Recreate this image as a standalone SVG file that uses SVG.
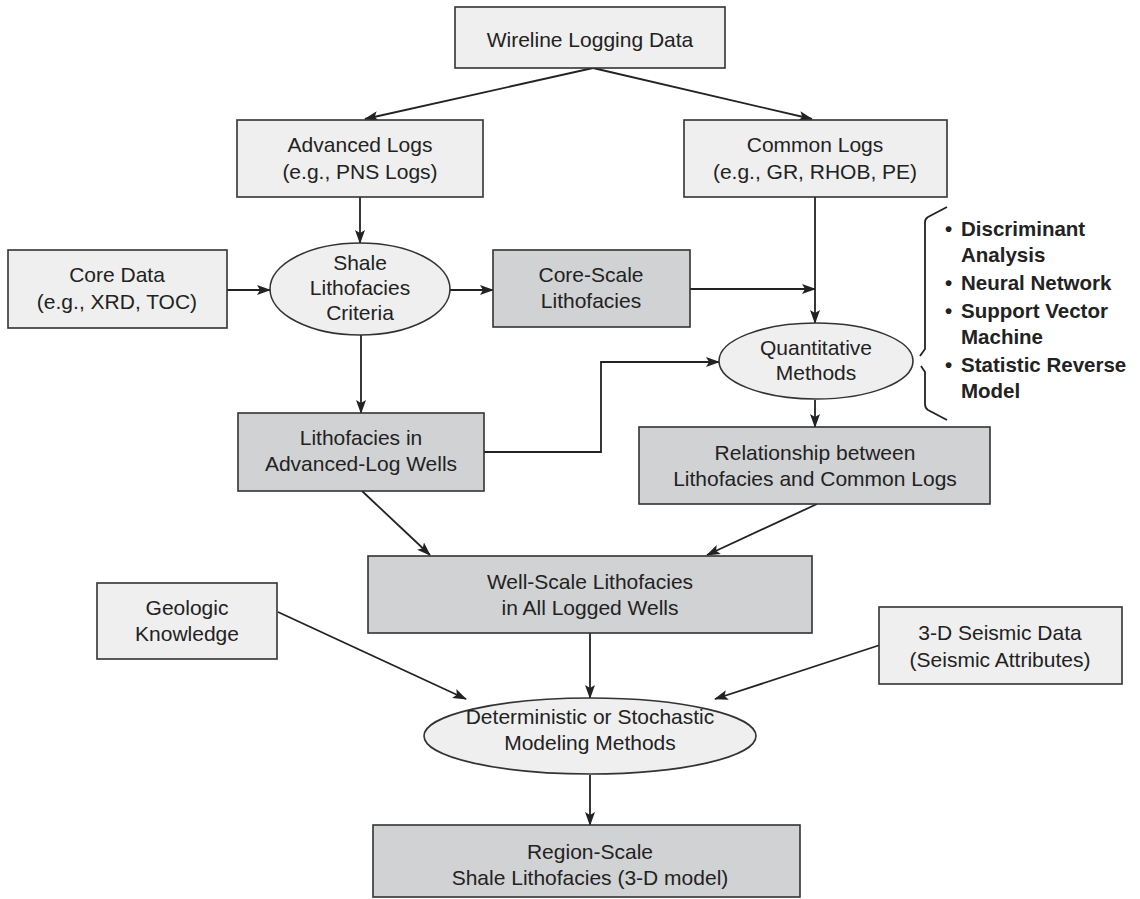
<svg xmlns="http://www.w3.org/2000/svg" width="1140" height="899" viewBox="0 0 1140 899">
<defs>
<marker id="ah" viewBox="0 0 14 10" refX="13" refY="5" markerWidth="14" markerHeight="10" markerUnits="userSpaceOnUse" orient="auto">
<path d="M0,0 L14,5 L0,10 L3,5 z" fill="#222"/>
</marker>
<style>
.lt{fill:#efefef;stroke:#333;stroke-width:1.6}
.dk{fill:#d1d2d4;stroke:#333;stroke-width:1.6}
.t{font-family:"Liberation Sans",Arial,sans-serif;font-size:21px;fill:#222;text-anchor:middle}
.b{font-family:"Liberation Sans",Arial,sans-serif;font-size:20.5px;font-weight:bold;fill:#222}
.c{fill:none;stroke:#222;stroke-width:1.8}
.ca{fill:none;stroke:#222;stroke-width:1.8;marker-end:url(#ah)}
</style>
</defs>
<rect width="1140" height="899" fill="#fff"/>
<g id="connectors">
<path class="ca" d="M593,68 L365,119"/>
<path class="ca" d="M593,68 L812,119"/>
<path class="ca" d="M360,197 L360,243"/>
<path class="ca" d="M227,290 L270,290"/>
<path class="ca" d="M450,290 L493,290"/>
<path class="ca" d="M815,197 L815,323"/>
<path class="ca" d="M690,289 L815,289"/>
<path class="ca" d="M361,335 L361,413"/>
<path class="ca" d="M484,452 L601,452 L601,362 L719,362"/>
<path class="ca" d="M815,400 L815,427"/>
<path class="ca" d="M362,491 L430,555"/>
<path class="ca" d="M817,504 L707,555"/>
<path class="ca" d="M590,633 L590,698"/>
<path class="ca" d="M278,612 L466,699"/>
<path class="ca" d="M880,645 L715,699"/>
<path class="ca" d="M590,775 L590,825"/>
</g>
<g id="n-wireline"><rect class="lt" x="455" y="7" width="270" height="61"/><text class="t" x="590" y="47">Wireline Logging Data</text></g>
<g id="n-advanced"><rect class="lt" x="237" y="120" width="246" height="77"/><text class="t" x="360" y="152">Advanced Logs</text><text class="t" x="360" y="179">(e.g., PNS Logs)</text></g>
<g id="n-common"><rect class="lt" x="684" y="120" width="263" height="77"/><text class="t" x="815" y="152">Common Logs</text><text class="t" x="815" y="179">(e.g., GR, RHOB, PE)</text></g>
<g id="n-core"><rect class="lt" x="8" y="250" width="219" height="78"/><text class="t" x="117" y="282">Core Data</text><text class="t" x="117" y="309">(e.g., XRD, TOC)</text></g>
<g id="n-shale"><ellipse class="lt" cx="360" cy="289" rx="90" ry="46"/><text class="t" x="360" y="270">Shale</text><text class="t" x="360" y="295">Lithofacies</text><text class="t" x="360" y="320">Criteria</text></g>
<g id="n-corescale"><rect class="dk" x="493" y="250" width="197" height="77"/><text class="t" x="591" y="282">Core-Scale</text><text class="t" x="591" y="308">Lithofacies</text></g>
<g id="n-quant"><ellipse class="lt" cx="816" cy="361" rx="97" ry="38"/><text class="t" x="816" y="355">Quantitative</text><text class="t" x="816" y="380">Methods</text></g>
<g id="n-methods">
<path class="c" d="M947,207 L928,217 Q925,219 925,222 L925,349 L920,356"/>
<path class="c" d="M921,366 L925,372 L925,404 Q925,408 928,410 L947,420"/>
<text class="b"><tspan x="945" y="236">•</tspan><tspan x="961" y="236">Discriminant</tspan></text>
<text class="b" x="961" y="262">Analysis</text>
<text class="b"><tspan x="945" y="290">•</tspan><tspan x="961" y="290">Neural Network</tspan></text>
<text class="b"><tspan x="945" y="318">•</tspan><tspan x="961" y="318">Support Vector</tspan></text>
<text class="b" x="961" y="344">Machine</text>
<text class="b"><tspan x="945" y="372">•</tspan><tspan x="961" y="372">Statistic Reverse</tspan></text>
<text class="b" x="961" y="398">Model</text>
</g>
<g id="n-litho-adv"><rect class="dk" x="238" y="413" width="246" height="78"/><text class="t" x="361" y="445">Lithofacies in</text><text class="t" x="361" y="471">Advanced-Log Wells</text></g>
<g id="n-relationship"><rect class="dk" x="639" y="427" width="351" height="77"/><text class="t" x="815" y="460">Relationship between</text><text class="t" x="815" y="486">Lithofacies and Common Logs</text></g>
<g id="n-wellscale"><rect class="dk" x="368" y="556" width="444" height="77"/><text class="t" x="590" y="589">Well-Scale Lithofacies</text><text class="t" x="590" y="615">in All Logged Wells</text></g>
<g id="n-geologic"><rect class="lt" x="97" y="583" width="180" height="76"/><text class="t" x="187" y="615">Geologic</text><text class="t" x="187" y="641">Knowledge</text></g>
<g id="n-seismic"><rect class="lt" x="879" y="607" width="243" height="77"/><text class="t" x="1000" y="640">3-D Seismic Data</text><text class="t" x="1000" y="667">(Seismic Attributes)</text></g>
<g id="n-modeling"><ellipse class="lt" cx="590" cy="736" rx="166" ry="38"/><text class="t" x="590" y="724">Deterministic or Stochastic</text><text class="t" x="590" y="750">Modeling Methods</text></g>
<g id="n-region"><rect class="dk" x="373" y="825" width="427" height="72"/><text class="t" x="590" y="859">Region-Scale</text><text class="t" x="590" y="885">Shale Lithofacies (3-D model)</text></g>
</svg>
